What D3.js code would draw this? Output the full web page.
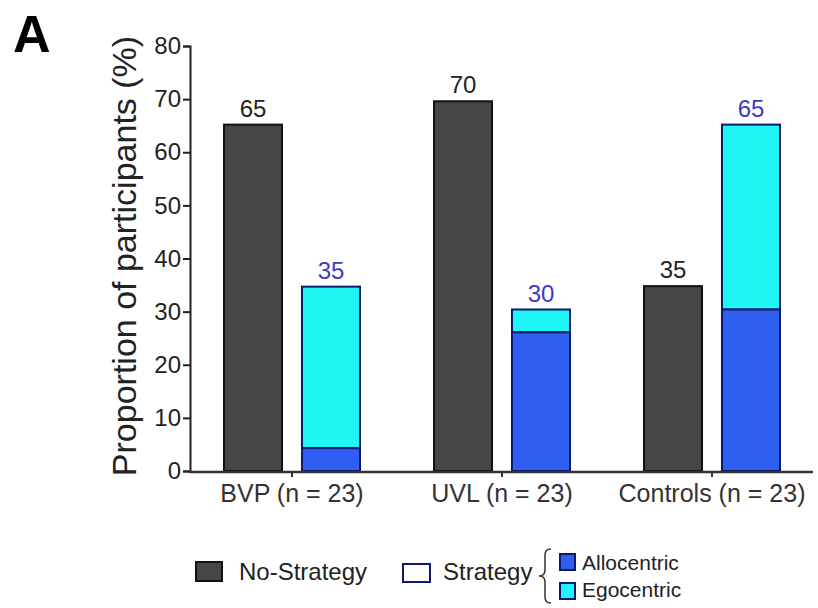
<!DOCTYPE html>
<html>
<head>
<meta charset="utf-8">
<script src="https://cdn.jsdelivr.net/npm/d3@7"></script>
<style>
  body { margin: 0; background: #fff; }
  text { font-family: "Liberation Sans", Arial, sans-serif; }
</style>
</head>
<body>
<div class="chart"></div>
<script>
// Data
const groups = ["BVP (n = 23)", "UVL (n = 23)", "Controls (n = 23)"];
const noStrategy = [65.2, 69.6, 34.8];
const allocentric = [4.3, 26.1, 30.4];
const egocentric = [30.4, 4.3, 34.8];
const noStrategyLabels = ["65", "70", "35"];
const strategyLabels = ["35", "30", "65"];
const yTicks = [0, 10, 20, 30, 40, 50, 60, 70, 80];

const svg = d3.select(".chart")
  .append("svg")
  .attr("width", 818)
  .attr("height", 608);

// Scales
const yScale = d3.scaleLinear().domain([0, 80]).range([471, 46]);
const xScale = d3.scaleBand().domain(groups).range([187, 817]);
const inner = d3.scaleBand().domain(["none", "strategy"]).range([-68, 68]).paddingInner(0.256);

const darkFill = "#464646";
const alloFill = "#2f5ff0";
const egoFill = "#1ef6f6";
const navy = "#0b1a6e";
const labelBlue = "#3b3bc6";

// Panel letter
svg.append("text")
  .attr("x", 13).attr("y", 52)
  .attr("font-size", 52).attr("font-weight", "bold")
  .text("A");

// Y axis
const yAxis = svg.append("g")
  .attr("transform", "translate(190,0)")
  .call(d3.axisLeft(yScale).tickValues(yTicks).tickSize(7).tickPadding(2));
yAxis.select(".domain").attr("stroke", "#222").attr("stroke-width", 2);
yAxis.selectAll(".tick line").attr("stroke", "#222").attr("stroke-width", 2);
yAxis.selectAll(".tick text")
  .attr("font-size", 24).attr("fill", "#222")
  .style("font-family", "'Liberation Sans', Arial, sans-serif");

svg.append("text")
  .attr("transform", "translate(136,256) rotate(-90)")
  .attr("text-anchor", "middle")
  .attr("font-size", 34)
  .attr("fill", "#222")
  .text("Proportion of participants (%)");

// Bars
const centers = groups.map(g => xScale(g) + xScale.bandwidth() / 2);

svg.selectAll("rect.none")
  .data(groups)
  .join("rect")
    .attr("class", "none")
    .attr("x", (d, i) => centers[i] + inner("none"))
    .attr("y", (d, i) => yScale(noStrategy[i]))
    .attr("width", inner.bandwidth())
    .attr("height", (d, i) => yScale(0) - yScale(noStrategy[i]))
    .attr("fill", darkFill)
    .attr("stroke", "#111")
    .attr("stroke-width", 2);

svg.selectAll("rect.ego")
  .data(groups)
  .join("rect")
    .attr("class", "ego")
    .attr("x", (d, i) => centers[i] + inner("strategy"))
    .attr("y", (d, i) => yScale(allocentric[i] + egocentric[i]))
    .attr("width", inner.bandwidth())
    .attr("height", (d, i) => yScale(allocentric[i]) - yScale(allocentric[i] + egocentric[i]))
    .attr("fill", egoFill)
    .attr("stroke", navy)
    .attr("stroke-width", 2);

svg.selectAll("rect.allo")
  .data(groups)
  .join("rect")
    .attr("class", "allo")
    .attr("x", (d, i) => centers[i] + inner("strategy"))
    .attr("y", (d, i) => yScale(allocentric[i]))
    .attr("width", inner.bandwidth())
    .attr("height", (d, i) => yScale(0) - yScale(allocentric[i]))
    .attr("fill", alloFill)
    .attr("stroke", navy)
    .attr("stroke-width", 2);

// Value labels
svg.selectAll("text.lab-none")
  .data(groups)
  .join("text")
    .attr("class", "lab-none")
    .attr("x", (d, i) => centers[i] + inner("none") + inner.bandwidth() / 2)
    .attr("y", (d, i) => yScale(noStrategy[i]) - 8)
    .attr("text-anchor", "middle")
    .attr("font-size", 24)
    .attr("fill", "#222")
    .text((d, i) => noStrategyLabels[i]);

svg.selectAll("text.lab-strat")
  .data(groups)
  .join("text")
    .attr("class", "lab-strat")
    .attr("x", (d, i) => centers[i] + inner("strategy") + inner.bandwidth() / 2)
    .attr("y", (d, i) => yScale(allocentric[i] + egocentric[i]) - 8)
    .attr("text-anchor", "middle")
    .attr("font-size", 24)
    .attr("fill", labelBlue)
    .text((d, i) => strategyLabels[i]);

// X axis
svg.append("line")
  .attr("x1", 189).attr("x2", 813)
  .attr("y1", 472).attr("y2", 472)
  .attr("stroke", "#333").attr("stroke-width", 2.5);

const xAxis = svg.append("g")
  .attr("transform", "translate(0,472)")
  .call(d3.axisBottom(xScale).tickSize(5).tickPadding(7));
xAxis.select(".domain").remove();
xAxis.selectAll(".tick line").attr("stroke", "#333").attr("stroke-width", 2);
xAxis.selectAll(".tick text")
  .attr("font-size", 25).attr("fill", "#333")
  .style("font-family", "'Liberation Sans', Arial, sans-serif");

// Legend
const legend = svg.append("g");
legend.append("rect")
  .attr("x", 196).attr("y", 562).attr("width", 26).attr("height", 19)
  .attr("fill", darkFill).attr("stroke", "#111").attr("stroke-width", 2);
legend.append("text")
  .attr("x", 239).attr("y", 580).attr("font-size", 24).attr("fill", "#222")
  .text("No-Strategy");
legend.append("rect")
  .attr("x", 403).attr("y", 564).attr("width", 27).attr("height", 18)
  .attr("fill", "#fff").attr("stroke", navy).attr("stroke-width", 2);
legend.append("text")
  .attr("x", 443).attr("y", 580).attr("font-size", 24).attr("fill", "#222")
  .text("Strategy");

// Curly brace
legend.append("path")
  .attr("d", "M551,549 Q545,549 545,555 L545,570 Q545,576 539,576 Q545,576 545,582 L545,597 Q545,603 551,603")
  .attr("fill", "none").attr("stroke", "#333").attr("stroke-width", 1.5);

legend.append("rect")
  .attr("x", 560).attr("y", 554).attr("width", 15).attr("height", 16)
  .attr("fill", alloFill).attr("stroke", navy).attr("stroke-width", 2);
legend.append("rect")
  .attr("x", 560).attr("y", 583).attr("width", 15).attr("height", 16)
  .attr("fill", egoFill).attr("stroke", navy).attr("stroke-width", 2);
legend.append("text")
  .attr("x", 582).attr("y", 570).attr("font-size", 21).attr("fill", "#222")
  .text("Allocentric");
legend.append("text")
  .attr("x", 582).attr("y", 597).attr("font-size", 21).attr("fill", "#222")
  .text("Egocentric");
</script>
</body>
</html>
